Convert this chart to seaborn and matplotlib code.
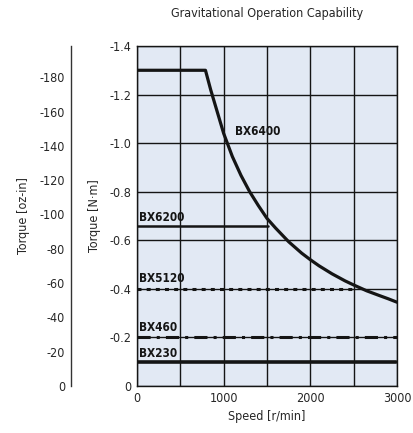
import numpy as np
import pandas as pd
import matplotlib
matplotlib.use('Agg')
import matplotlib.pyplot as plt
import seaborn as sns

# data
bx6400_speed = [0, 790, 850, 900, 1000, 1100, 1200, 1300, 1400, 1500, 1600, 1750, 1900, 2000,
                2100, 2250, 2400, 2500, 2650, 2800, 2900, 3000]
bx6400_torque = [-1.3, -1.3, -1.22, -1.16, -1.04, -0.945, -0.867, -0.8, -0.743, -0.69, -0.65,
                 -0.594, -0.547, -0.52, -0.495, -0.462, -0.433, -0.416, -0.392, -0.372, -0.359, -0.345]
bx6200_speed = [0, 1510]
bx6200_torque = [-0.66, -0.66]
bx5120_speed = [0, 2530]
bx5120_torque = [-0.4, -0.4]
bx460_speed = [0, 3000]
bx460_torque = [-0.2, -0.2]
bx230_speed = [0, 2990]
bx230_torque = [-0.1, -0.1]

labels = ['BX6400', 'BX6200', 'BX5120', 'BX460', 'BX230']
label_pos = [(1130, -1.035), (20, -0.68), (20, -0.428), (20, -0.228), (20, -0.12)]
nm_ticks = [0, -0.2, -0.4, -0.6, -0.8, -1.0, -1.2, -1.4]
ozin_ticks = [0, -20, -40, -60, -80, -100, -120, -140, -160, -180]
NM_TO_OZIN = 141.6

sns.set_theme(style='white')
plt.rcParams['font.family'] = ['DejaVu Sans']
plt.rcParams['font.stretch'] = 'condensed'

fig = plt.figure(figsize=(4.13, 4.33), dpi=100)
ax = fig.add_axes([0.3317, 0.1085, 0.6296, 0.7853])
ax.set_facecolor('#e2e9f4')

ink = '#151515'
sns.lineplot(x=bx6400_speed, y=bx6400_torque, ax=ax, color=ink, lw=2.3)
sns.lineplot(x=bx6200_speed, y=bx6200_torque, ax=ax, color=ink, lw=1.8)
sns.lineplot(x=bx5120_speed, y=bx5120_torque, ax=ax, color=ink, lw=2.2, linestyle=(0, (1.3, 1.7)))
sns.lineplot(x=bx460_speed, y=bx460_torque, ax=ax, color=ink, lw=2.2, linestyle=(0, (4.3, 2, 1, 2)))
sns.lineplot(x=bx230_speed, y=bx230_torque, ax=ax, color=ink, lw=2.6)

for name, (x, y) in zip(labels, label_pos):
    ax.text(x, y, name, fontsize=8.5, fontweight='bold', color=ink)

ax.set_xlim(0, 3000)
ax.set_ylim(0, -1.4)
ax.set_xticks(np.arange(0, 3001, 500), minor=True)
ax.set_xticks([0, 1000, 2000, 3000])
ax.set_yticks(nm_ticks)
ax.set_yticklabels(['0' if t == 0 else f'{t:.1f}' for t in nm_ticks])
ax.grid(True, which='both', color=ink, lw=1.0)
ax.tick_params(axis='both', which='both', length=0, labelsize=9, pad=4)
for s in ax.spines.values():
    s.set_color(ink)
    s.set_linewidth(1.0)
ax.set_xlabel('Speed [r/min]', fontsize=9)
ax.set_ylabel('Torque [N·m]', fontsize=9, labelpad=6)
ax.set_title('Gravitational Operation Capability', fontsize=9, pad=21)

# secondary torque scale in oz-in
ax2 = fig.add_axes([70.7 / 413, 0.1085, 0.001, 0.7853])
ax2.set_facecolor('none')
ax2.set_ylim(0, -1.4 * NM_TO_OZIN)
ax2.set_xticks([])
ax2.set_yticks(ozin_ticks)
ax2.set_yticklabels([f'{t:g}' for t in ozin_ticks])
for k in ['top', 'right', 'bottom']:
    ax2.spines[k].set_visible(False)
ax2.spines['left'].set_color('#333333')
ax2.spines['left'].set_linewidth(1.0)
ax2.tick_params(axis='y', direction='out', length=3, width=1, color='#333333', labelsize=9, pad=1)
ax2.set_ylabel('Torque [oz-in]', fontsize=9, labelpad=7)

fig.savefig('out.png', dpi=100)
